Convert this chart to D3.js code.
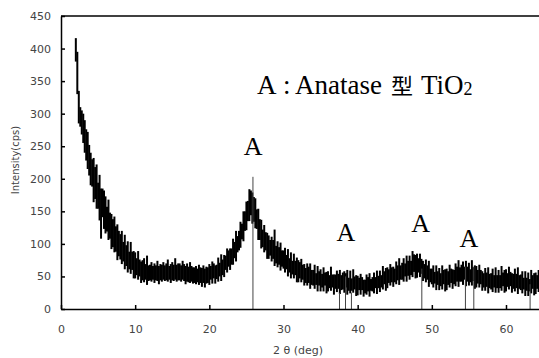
<!DOCTYPE html>
<html>
<head>
<meta charset="utf-8">
<script src="https://cdn.jsdelivr.net/npm/d3@7"></script>
<style>
  body { margin: 0; background: #fff; }
  svg { display: block; }
</style>
</head>
<body>
<div id="chart"></div>
<script>
// XRD pattern, binned every 0.2 deg from 2.0 deg: lowest and highest count in each bin
const twoThetaStart = 2.0;
const twoThetaStep = 0.2;
const countHigh = [
  416, 395, 335, 310, 305, 300, 290, 276, 272, 252,
  240, 230, 232, 218, 222, 194, 206, 185, 185, 182,
  173, 157, 168, 148, 146, 138, 142, 127, 130, 120,
  115, 120, 103, 114, 98, 104, 88, 103, 88, 89,
  87, 78, 89, 76, 73, 75, 78, 69, 82, 67,
  68, 72, 66, 70, 67, 74, 66, 69, 68, 72,
  67, 70, 76, 66, 69, 72, 68, 78, 68, 70,
  70, 67, 74, 69, 66, 70, 65, 72, 66, 64,
  64, 66, 62, 68, 64, 63, 67, 62, 65, 64,
  69, 66, 73, 70, 67, 68, 79, 71, 84, 76,
  83, 82, 93, 90, 93, 93, 108, 103, 120, 112,
  120, 134, 131, 150, 150, 165, 166, 184, 182, 179,
  172, 170, 153, 154, 138, 137, 122, 129, 118, 117,
  113, 106, 111, 106, 122, 97, 104, 95, 102, 90,
  90, 94, 83, 92, 78, 87, 74, 85, 74, 79,
  75, 72, 77, 68, 69, 63, 70, 65, 70, 60,
  60, 68, 55, 66, 58, 61, 54, 64, 56, 57,
  58, 52, 65, 53, 53, 53, 59, 54, 60, 52,
  56, 58, 55, 60, 48, 59, 47, 61, 50, 52,
  51, 48, 54, 49, 45, 45, 53, 49, 55, 46,
  49, 56, 49, 59, 51, 59, 52, 66, 58, 63,
  64, 61, 69, 64, 65, 62, 73, 67, 78, 67,
  71, 78, 70, 82, 74, 82, 74, 89, 84, 83,
  85, 78, 85, 77, 74, 69, 76, 67, 74, 62,
  62, 67, 57, 67, 58, 63, 55, 67, 60, 61,
  62, 58, 68, 62, 61, 60, 70, 65, 75, 64,
  68, 73, 65, 74, 65, 71, 61, 75, 64, 67,
  66, 60, 68, 60, 58, 55, 63, 56, 64, 54,
  55, 62, 52, 64, 52, 60, 52, 66, 56, 60,
  61, 55, 65, 57, 55, 54, 62, 54, 64, 52,
  53, 58, 48, 58, 48, 56, 46, 60, 52, 55,
  56, 52, 60
];
const countLow = [
  380, 330, 285, 280, 268, 255, 240, 228, 215, 205,
  190, 188, 164, 169, 154, 154, 136, 108, 141, 123,
  116, 119, 106, 108, 92, 95, 87, 88, 75, 81,
  76, 69, 73, 61, 66, 56, 61, 54, 60, 47,
  47, 52, 45, 50, 40, 44, 41, 45, 37, 43,
  44, 42, 45, 40, 44, 43, 38, 44, 42, 45,
  43, 44, 42, 45, 40, 44, 43, 45, 42, 44,
  44, 42, 45, 43, 38, 42, 41, 40, 42, 39,
  40, 38, 41, 37, 40, 34, 40, 33, 39, 40,
  37, 45, 39, 47, 39, 46, 42, 50, 43, 52,
  49, 60, 56, 65, 60, 68, 68, 78, 73, 87,
  90, 94, 107, 104, 120, 121, 135, 135, 144, 131,
  134, 124, 123, 106, 106, 93, 95, 87, 90, 77,
  77, 82, 73, 77, 66, 70, 64, 68, 59, 65,
  62, 56, 61, 50, 56, 47, 53, 47, 52, 41,
  41, 47, 41, 45, 36, 40, 36, 40, 31, 37,
  36, 31, 37, 27, 36, 27, 33, 27, 36, 24,
  27, 32, 28, 33, 22, 31, 26, 31, 23, 29,
  30, 25, 33, 22, 28, 24, 28, 25, 30, 20,
  21, 29, 22, 29, 19, 24, 22, 27, 19, 28,
  27, 24, 32, 23, 32, 26, 33, 30, 38, 28,
  32, 40, 36, 41, 34, 41, 38, 44, 37, 45,
  45, 42, 50, 42, 51, 45, 52, 49, 57, 47,
  48, 56, 49, 54, 43, 47, 41, 45, 34, 41,
  38, 33, 39, 29, 37, 29, 35, 30, 38, 27,
  29, 37, 33, 40, 31, 38, 35, 42, 34, 42,
  42, 37, 45, 35, 42, 36, 41, 36, 43, 31,
  33, 39, 33, 38, 28, 33, 28, 34, 24, 32,
  30, 26, 33, 25, 32, 25, 32, 28, 35, 25,
  27, 34, 30, 35, 25, 31, 27, 32, 23, 31,
  29, 24, 30, 20, 28, 20, 27, 24, 31, 21,
  23, 31, 26
];

// reference (anatase) stick lines
const refAngles = [25.88, 37.55, 38.36, 39.16, 48.65, 54.53, 55.66, 63.25];
const refHeights = [203, 25, 50, 25, 62, 65, 65, 38];

// "A" peak labels
const peakLabelAngles = [25.9, 38.4, 48.5, 55.0];
const peakLabelLevels = [237, 104, 118, 95];

const xTicks = [0, 10, 20, 30, 40, 50, 60];
const yTicks = [0, 50, 100, 150, 200, 250, 300, 350, 400, 450];

const width = 539, height = 358;
const margin = { top: 16, right: 0, bottom: 49, left: 61 };

const svg = d3.select("#chart")
  .append("svg")
  .attr("width", width)
  .attr("height", height);

const x = d3.scaleLinear()
  .domain([0, 64.45])
  .range([margin.left, width - margin.right]);

const y = d3.scaleLinear()
  .domain([0, 450])
  .range([height - margin.bottom, margin.top]);

const bins = countHigh.map((hi, i) => ({
  angle: twoThetaStart + i * twoThetaStep,
  hi: hi,
  lo: countLow[i]
}));

// data trace: one vertical stroke per bin, min to max
svg.append("g")
  .selectAll("line")
  .data(bins)
  .join("line")
  .attr("x1", d => x(d.angle))
  .attr("x2", d => x(d.angle))
  .attr("y1", d => y(d.lo))
  .attr("y2", d => y(d.hi))
  .attr("stroke", "#000")
  .attr("stroke-width", 2);

// stick lines
svg.selectAll("line.ref")
  .data(refAngles)
  .join("line")
  .attr("class", "ref")
  .attr("x1", d => x(d))
  .attr("x2", d => x(d))
  .attr("y1", y(0))
  .attr("y2", (d, i) => y(refHeights[i]))
  .attr("stroke", "#444")
  .attr("stroke-width", 1);

// axes
const xAxis = svg.append("g")
  .attr("transform", `translate(0,${y(0)})`)
  .call(d3.axisBottom(x).tickValues(xTicks).tickSizeInner(-4).tickSizeOuter(0).tickPadding(16));

const yAxis = svg.append("g")
  .attr("transform", `translate(${x(0)},0)`)
  .call(d3.axisLeft(y).tickValues(yTicks).tickSizeInner(-4).tickSizeOuter(0).tickPadding(10));

[xAxis, yAxis].forEach(g => {
  g.select(".domain").attr("stroke", "#000").attr("stroke-width", 1.5);
  g.selectAll(".tick line").attr("stroke", "#000").attr("stroke-width", 1.5);
  g.selectAll(".tick text")
    .attr("fill", "#444")
    .style("font-family", "'DejaVu Sans', sans-serif")
    .style("font-size", "11px");
});

// top border
svg.append("line")
  .attr("x1", x(0)).attr("x2", width)
  .attr("y1", y(450)).attr("y2", y(450))
  .attr("stroke", "#000").attr("stroke-width", 1.5);

// axis titles
svg.append("text")
  .attr("x", 298)
  .attr("y", 354)
  .attr("text-anchor", "middle")
  .attr("fill", "#444")
  .style("font-family", "'DejaVu Sans', sans-serif")
  .style("font-size", "11px")
  .text("2 θ (deg)");

svg.append("text")
  .attr("transform", "translate(19,160) rotate(-90)")
  .attr("text-anchor", "middle")
  .attr("fill", "#444")
  .style("font-family", "'DejaVu Sans', sans-serif")
  .style("font-size", "10px")
  .text("Intensity(cps)");

// legend text
const legend = svg.append("text")
  .attr("y", 94)
  .attr("fill", "#000")
  .style("font-family", "'Liberation Serif', serif")
  .style("font-size", "27px");
legend.append("tspan").attr("x", 257).text("A");
legend.append("tspan").attr("x", 283).text(":");
legend.append("tspan").attr("x", 295).text("Anatase");
legend.append("tspan").attr("x", 391)
  .style("font-family", "'Noto Sans CJK JP', sans-serif")
  .style("font-size", "22px")
  .text("型");
legend.append("tspan").attr("x", 421).text("TiO");
legend.append("tspan").attr("dy", 1).style("font-size", "18px").text("2");

// peak labels
svg.selectAll("text.peak")
  .data(peakLabelAngles)
  .join("text")
  .attr("class", "peak")
  .attr("x", d => x(d))
  .attr("y", (d, i) => y(peakLabelLevels[i]))
  .attr("text-anchor", "middle")
  .attr("fill", "#000")
  .style("font-family", "'Liberation Serif', serif")
  .style("font-size", "26px")
  .text("A");
</script>
</body>
</html>
